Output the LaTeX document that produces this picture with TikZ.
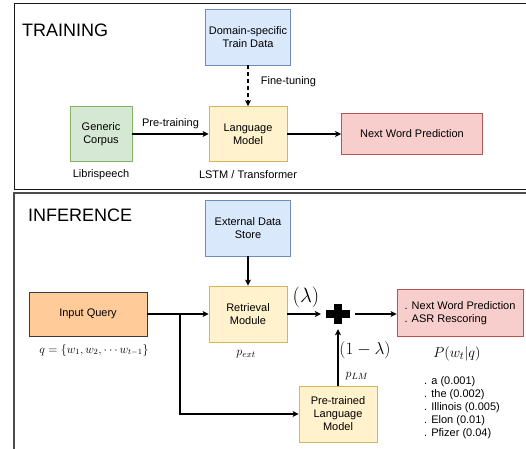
\documentclass[tikz,border=0pt]{standalone}
\usepackage[no-math]{fontspec}
\setmainfont{Liberation Sans}
\usetikzlibrary{arrows.meta}
\definecolor{blueFill}{HTML}{DAE8FC}
\definecolor{blueLine}{HTML}{6C8EBF}
\definecolor{greenFill}{HTML}{D5E8D4}
\definecolor{greenLine}{HTML}{82B366}
\definecolor{yellowFill}{HTML}{FFF2CC}
\definecolor{yellowLine}{HTML}{D6B656}
\definecolor{redFill}{HTML}{F8CECC}
\definecolor{redLine}{HTML}{B85450}
\definecolor{orangeFill}{HTML}{FFCC99}
\definecolor{orangeLine}{HTML}{36393D}
\begin{document}
\begin{tikzpicture}[x=1pt, y=-1pt, font=\fontsize{11}{13}\selectfont,
        box/.style={draw, line width=0.8pt, align=center, inner sep=2pt},
        bluebox/.style={box, fill=blueFill, draw=blueLine, minimum width=85pt, minimum height=56pt},
        greenbox/.style={box, fill=greenFill, draw=greenLine, minimum width=62pt, minimum height=55pt},
        yellowbox/.style={box, fill=yellowFill, draw=yellowLine, minimum width=78pt, minimum height=56pt},
        redbox/.style={box, fill=redFill, draw=redLine},
        orangebox/.style={box, fill=orangeFill, draw=orangeLine, minimum width=118pt, minimum height=44pt},
        title/.style={anchor=west, inner sep=0pt, font=\fontsize{18}{20}\selectfont},
        mathlbl/.style={font=\fontsize{13}{15}\selectfont},
        arr/.style={line width=1.2pt, -{Stealth[length=6pt, width=6pt, inset=1.5pt]}}]
    \path[use as bounding box, clip] (0,0) rectangle (526,448);
    % Frames
    \draw[line width=1pt, black!90] (14,3) rectangle (560,189);
    \draw[line width=1.2pt, black!70] (14,193) rectangle (560,480);
    \node[title] (train) at (22,30) {TRAINING};
    \node[title] (infer) at (28,215) {INFERENCE};

    % Nodes (training)
    \node[bluebox] (dom) at (248,37) {Domain-specific\\Train Data};
    \node[greenbox] (gen) at (101,134) {Generic\\Corpus};
    \node[yellowbox, minimum height=55pt] (lm) at (248,134) {Language\\Model};
    \node[redbox, minimum width=141pt, minimum height=41pt] (nwp) at (412,134) {Next Word Prediction};
    \node (libri) at (101,175) {Librispeech};
    \node (lstm) at (248,175) {LSTM / Transformer};
    % Edges (training)
    \draw[arr, dash pattern=on 4pt off 3pt] (dom) -- node[pos=0.4, anchor=west, xshift=9pt] {Fine-tuning} (lm);
    \draw[arr] (gen) -- node[above, yshift=1pt] {Pre-training} (lm);
    \draw[arr] (lm) -- (nwp);

    % Nodes (inference)
    \node[bluebox] (ext) at (248,228) {External Data\\Store};
    \node[yellowbox] (ret) at (248,314) {Retrieval\\Module};
    \node[orangebox] (iq) at (88,314) {Input Query};
    \node[yellowbox] (plm) at (338,414) {Pre-trained\\Language\\Model};
    \node[redbox, align=left, minimum width=126pt, minimum height=47pt] (out) at (460,313) {. Next Word Prediction\\. ASR Rescoring};
    \node[minimum width=34pt, minimum height=30pt] (plus) at (338,314) {};
    \draw[line width=8pt] ([xshift=5pt]plus.west) -- ([xshift=-5pt]plus.east)
        ([yshift=-5pt]plus.north) -- ([yshift=5pt]plus.south);
    \coordinate (br) at (180,314);
    \node[mathlbl, font=\fontsize{12}{14}\selectfont] (qset) at (94,350) {$q=\{w_1,w_2,\cdots w_{t-1}\}$};
    \node[mathlbl] (pext) at (246,354) {$p_{ext}$};
    \node[mathlbl] (plmlbl) at (357,376) {$p_{LM}$};
    \node[mathlbl, font=\fontsize{15}{17}\selectfont] (pwq) at (457,354) {$P(w_t|q)$};
    \node[font=\fontsize{20}{22}\selectfont] (lam) at (306,297) {$(\lambda)$};
    \node[font=\fontsize{18}{20}\selectfont] (lamc) at (365,350) {$(1-\lambda)$};
    \node[anchor=north west, align=left, inner sep=0pt] (words) at (424,376)
        {. a (0.001)\\. the (0.002)\\. Illinois (0.005)\\. Elon (0.01)\\. Pfizer (0.04)};
    % Edges (inference)
    \draw[arr] (ext) -- (ret);
    \draw[line width=1.2pt] (iq) -- (br);
    \draw[arr] (br) -- (ret);
    \draw[arr] (br) |- (plm);
    \draw[arr] (ret) -- (plus);
    \draw[arr] (plm) -- (plus);
    \draw[arr] (plus) -- (out.west |- plus);

\end{tikzpicture}
\end{document}
